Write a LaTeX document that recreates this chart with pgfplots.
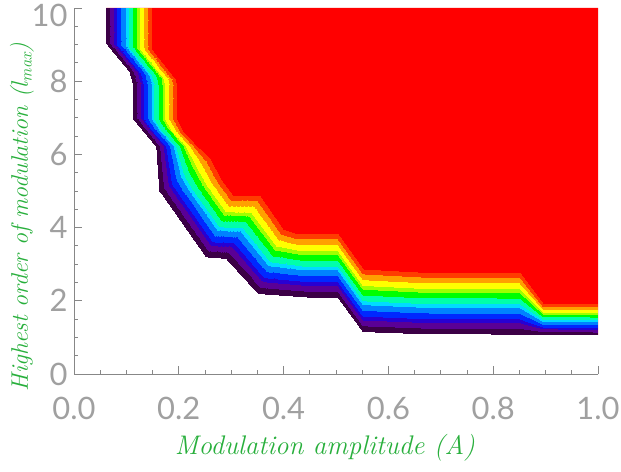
\documentclass[border=0pt]{standalone}
\usepackage{pgfplots}
\pgfplotsset{compat=1.18}
\usepgfplotslibrary{patchplots}
\usepackage{fontspec}
\newfontfamily\ticfont{Lato}
\definecolor{lblgreen}{RGB}{40,175,60}
\definecolor{axgray}{RGB}{135,135,135}
\definecolor{ticgray}{RGB}{160,160,160}
\begin{document}
\begin{tikzpicture}
\begin{axis}[
  scale only axis, width=524bp, height=366bp,
  xmin=0, xmax=1, ymin=0, ymax=10,
  axis lines=left,
  axis line style={-, draw=axgray, line width=1bp},
  xtick={0,0.2,0.4,0.6,0.8,1},
  xticklabels={0.0,0.2,0.4,0.6,0.8,1.0},
  ytick={0,2,4,6,8},
  yticklabels={0,2,4,6,8},
  extra y ticks={10},
  extra y tick labels={10},
  extra y tick style={yticklabel style={yshift=-7bp}},
  minor xtick={0.05,0.1,0.15,0.25,0.3,0.35,0.45,0.5,0.55,0.65,0.7,0.75,0.85,0.9,0.95},
  minor ytick={0.5,1,1.5,2.5,3,3.5,4.5,5,5.5,6.5,7,7.5,8.5,9,9.5},
  major tick length=8bp, minor tick length=4bp,
  tick style={draw=axgray, line width=0.8bp},
  tick align=inside,
  xticklabel style={font=\ticfont\fontsize{31}{33}\selectfont, text=ticgray, yshift=-20bp},
  yticklabel style={font=\ticfont\fontsize{31}{33}\selectfont, text=ticgray, xshift=-3bp},
  colormap={bands}{rgb255=(60,0,70) rgb255=(90,0,150) rgb255=(40,0,210) rgb255=(0,40,255) rgb255=(0,130,255) rgb255=(0,220,255) rgb255=(0,255,170) rgb255=(0,255,0) rgb255=(160,255,0) rgb255=(255,255,0) rgb255=(255,160,0) rgb255=(255,60,0) rgb255=(255,0,0)},
  colormap access=piecewise constant,
  point meta min=0, point meta max=1.0833,
  xlabel={Modulation amplitude (A)},
  xlabel style={font=\itshape\fontsize{27}{30}\selectfont, text=lblgreen, at={([yshift=-74bp]rel axis cs:0.479,0)}, anchor=center},
  ylabel={Highest order of modulation (l\textsubscript{max})},
  ylabel style={font=\itshape\fontsize{24}{28}\selectfont, text=lblgreen, at={([xshift=-52bp]rel axis cs:0,0.429)}, anchor=center},
]
% red region (drawn under the bands, from the outer edge up)
\addplot[draw=none, fill=red, forget plot] coordinates {
 (0.062,10) (0.062,9.04) (0.107,8.26) (0.113,7.94) (0.113,6.99) (0.126,6.76)
 (0.158,6.21) (0.164,4.98) (0.170,4.89) (0.253,3.20) (0.291,3.16) (0.352,2.20)
 (0.450,2.10) (0.504,2.10) (0.552,1.16) (0.667,1.10) (0.851,1.09) (0.896,1.08)
 (1.0,1.07) (1.0,10)} -- cycle;
% contour bands: quads from the outer edge (meta 0) to the red edge (meta 1)
\addplot[patch, patch type=bilinear, shader=interp, point meta=explicit, forget plot] coordinates {
 (0.062,10)[0] (0.062,9.04)[0] (0.148,8.85)[1] (0.148,10)[1]
 (0.062,9.04)[0] (0.107,8.26)[0] (0.193,8.03)[1] (0.148,8.85)[1]
 (0.107,8.26)[0] (0.113,7.94)[0] (0.196,7.85)[1] (0.193,8.03)[1]
 (0.113,7.94)[0] (0.113,6.99)[0] (0.196,6.94)[1] (0.196,7.85)[1]
 (0.113,6.99)[0] (0.126,6.76)[0] (0.209,6.58)[1] (0.196,6.94)[1]
 (0.126,6.76)[0] (0.158,6.21)[0] (0.234,6.21)[1] (0.209,6.58)[1]
 (0.158,6.21)[0] (0.164,4.98)[0] (0.260,5.85)[1] (0.234,6.21)[1]
 (0.164,4.98)[0] (0.170,4.89)[0] (0.280,5.30)[1] (0.260,5.85)[1]
 (0.170,4.89)[0] (0.253,3.20)[0] (0.304,4.84)[1] (0.280,5.30)[1]
 (0.253,3.20)[0] (0.291,3.16)[0] (0.355,4.84)[1] (0.304,4.84)[1]
 (0.291,3.16)[0] (0.352,2.20)[0] (0.399,3.93)[1] (0.355,4.84)[1]
 (0.352,2.20)[0] (0.450,2.10)[0] (0.425,3.80)[1] (0.399,3.93)[1]
 (0.450,2.10)[0] (0.504,2.10)[0] (0.504,3.80)[1] (0.425,3.80)[1]
 (0.504,2.10)[0] (0.552,1.16)[0] (0.552,2.84)[1] (0.504,3.80)[1]
 (0.552,1.16)[0] (0.667,1.10)[0] (0.667,2.75)[1] (0.552,2.84)[1]
 (0.667,1.10)[0] (0.851,1.09)[0] (0.851,2.75)[1] (0.667,2.75)[1]
 (0.851,1.09)[0] (0.896,1.08)[0] (0.896,1.89)[1] (0.851,2.75)[1]
 (0.896,1.08)[0] (1.0,1.07)[0] (1.0,1.89)[1] (0.896,1.89)[1]
};
\coordinate (ll) at (rel axis cs:0,0);
\coordinate (ur) at (rel axis cs:1,1);
\end{axis}
\pgfresetboundingbox
\path[use as bounding box] ([xshift=-74bp,yshift=-98bp]ll) rectangle ([xshift=23bp,yshift=8bp]ur);
\end{tikzpicture}
\end{document}
